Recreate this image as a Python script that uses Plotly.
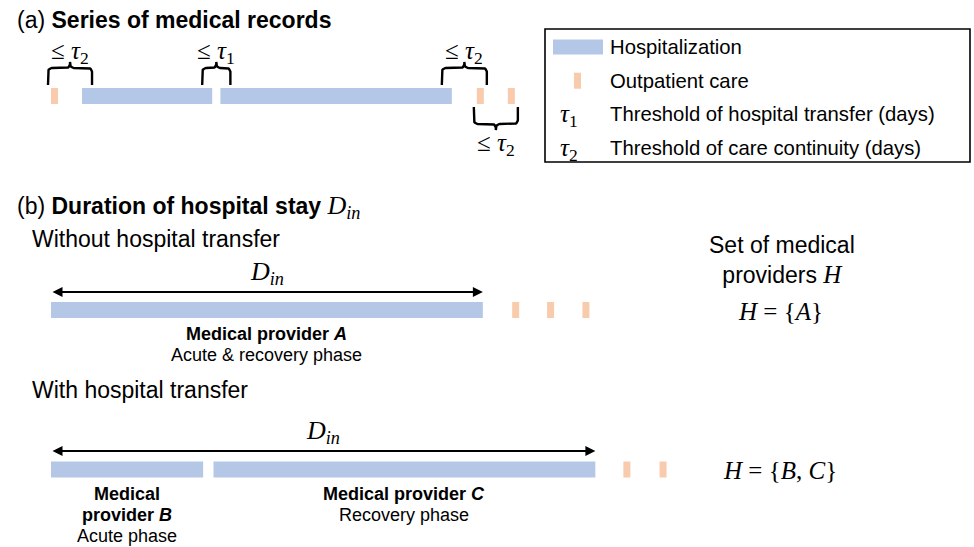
import numpy as np
import plotly.graph_objects as go

# ---------------- data (days, first record = day 0) ----------------
# (a) Series of medical records
a_hosp_start = [7.2, 39.3]
a_hosp_end = [37.4, 93.0]
a_outpatient_day = [0.0, 98.8, 106.0]

# (b) Without hospital transfer
b1_provider = ["A"]
b1_phase = ["Acute & recovery phase"]
b1_hosp_start = [0.0]
b1_hosp_end = [100.2]
b1_outpatient_day = [107.0, 115.1, 123.3]

# (b) With hospital transfer
b2_provider = ["B", "C"]
b2_phase = ["Acute phase", "Recovery phase"]
b2_hosp_start = [0.0, 37.7]
b2_hosp_end = [35.3, 126.3]
b2_outpatient_day = [132.8, 141.2]

legend_labels = ["Hospitalization", "Outpatient care",
                 "Threshold of hospital transfer (days)",
                 "Threshold of care continuity (days)"]
legend_symbols = ["", "", "1", "2"]

# ---------------- style / layout constants ----------------
W, H = 974, 547
PX_PER_DAY = 4.31
ORIGIN_PX = 51
OUT_W = 7 / PX_PER_DAY          # width of an outpatient mark (days)
HOSP_C = "#B4C7E7"
OUT_C = "#F8CBAD"
SANS = "Liberation Sans"
SERIF = "Liberation Serif"
ROW_A, ROW_B1, ROW_B2 = 96, 310, 469.5
BAR_H = 16
BRACE_PAD = 10 / PX_PER_DAY
R_PX = 4
brace_side = ["above", "above", "above", "below"]


def px(p):
    return p / W


def math(s, size):
    return f"<span style='font-family:{SERIF};font-size:{size}px'>{s}</span>"


fig = go.Figure()
ann = []
shapes = []


def add_row(starts, ends, outs, row):
    fig.add_trace(go.Bar(
        orientation="h", base=starts, x=[e - s for s, e in zip(starts, ends)],
        y=[row] * len(starts), width=BAR_H, marker=dict(color=HOSP_C, line_width=0),
        hoverinfo="skip", showlegend=False))
    fig.add_trace(go.Bar(
        orientation="h", base=outs, x=[OUT_W] * len(outs),
        y=[row] * len(outs), width=BAR_H, marker=dict(color=OUT_C, line_width=0),
        hoverinfo="skip", showlegend=False))


def brace(x0, x1, yb, yt, ytip, side):
    s = -1 if side == "above" else 1
    rx = R_PX / PX_PER_DAY
    ry = R_PX
    xm = (x0 + x1) / 2
    t = np.linspace(0, np.pi / 2, 10)
    left = [(x0, yb)]
    left += list(zip(x0 + rx - rx * np.cos(t), yt - s * ry + s * ry * np.sin(t)))
    left += list(zip(xm - rx + rx * np.sin(t), yt + s * ry * (1 - np.cos(t))))
    left += [(xm, ytip)]
    right = [(2 * xm - x, y) for x, y in reversed(left)]
    pts = left + right[1:]
    fig.add_trace(go.Scatter(x=[p[0] for p in pts], y=[p[1] for p in pts], mode="lines",
                             line=dict(color="black", width=2.4), hoverinfo="skip",
                             showlegend=False))


# ---------------- (a) ----------------
add_row(a_hosp_start, a_hosp_end, a_outpatient_day, ROW_A)
records = sorted([(s, e, "h") for s, e in zip(a_hosp_start, a_hosp_end)] +
                 [(d, d + OUT_W, "o") for d in a_outpatient_day])
for i in range(len(records) - 1):
    g0, g1 = records[i][1], records[i + 1][0]
    tau = "1" if records[i][2] == "h" and records[i + 1][2] == "h" else "2"
    side = brace_side[i]
    if side == "above":
        yb, yt, ytip, ylab = ROW_A - BAR_H / 2 - 3, ROW_A - 28, ROW_A - 34, ROW_A - 44
    else:
        yb, yt, ytip, ylab = ROW_A + BAR_H / 2 + 3, ROW_A + 28, ROW_A + 34, ROW_A + 48
    brace(g0 - BRACE_PAD, g1 + BRACE_PAD, yb, yt, ytip, side)
    ann.append(dict(x=(g0 + g1) / 2, y=ylab, xref="x", yref="y",
                    text=math(f"≤ <i>τ</i><sub>{tau}</sub>", 25), showarrow=False,
                    font=dict(size=25), xanchor="center", yanchor="middle"))

ann.append(dict(x=px(15), y=20, xref="paper", yref="y", xanchor="left", yanchor="middle",
                text="(a) <b>Series of medical records</b>", showarrow=False, font=dict(size=23)))

# legend box
shapes.append(dict(type="rect", xref="paper", yref="y", x0=px(545), x1=px(970), y0=29, y1=162,
                   line=dict(color="black", width=1.6), fillcolor="rgba(0,0,0,0)"))
LEG_Y0, LEG_DY = 47, 33.7
for i, lab in enumerate(legend_labels):
    y = LEG_Y0 + i * LEG_DY
    ann.append(dict(x=px(608), y=y, xref="paper", yref="y", xanchor="left", yanchor="middle",
                    text=lab, showarrow=False, font=dict(size=20.3)))
    if i == 0:
        shapes.append(dict(type="rect", xref="paper", yref="y", x0=px(553), x1=px(603),
                           y0=y - 7.5, y1=y + 7.5, line_width=0, fillcolor=HOSP_C))
    elif i == 1:
        shapes.append(dict(type="rect", xref="paper", yref="y", x0=px(574), x1=px(581),
                           y0=y - 8, y1=y + 8, line_width=0, fillcolor=OUT_C))
    else:
        ann.append(dict(x=px(569), y=y + 1, xref="paper", yref="y", xanchor="center",
                        yanchor="middle", showarrow=False, font=dict(size=25),
                        text=math(f"<i>τ</i><sub>{legend_symbols[i]}</sub>", 25)))

# ---------------- (b) ----------------
ann.append(dict(x=px(15), y=207, xref="paper", yref="y", xanchor="left", yanchor="middle",
                showarrow=False, font=dict(size=23),
                text="(b) <b>Duration of hospital stay</b> " +
                     math("<i>D</i><sub><i>in</i></sub>", 26)))
ann.append(dict(x=px(30), y=239, xref="paper", yref="y", xanchor="left", yanchor="middle",
                showarrow=False, font=dict(size=23), text="Without hospital transfer"))
ann.append(dict(x=px(30), y=390, xref="paper", yref="y", xanchor="left", yanchor="middle",
                showarrow=False, font=dict(size=23), text="With hospital transfer"))
ann.append(dict(x=px(782), y=260, xref="paper", yref="y", xanchor="center", yanchor="middle",
                showarrow=False, font=dict(size=23),
                text="Set of medical<br>providers " + math("<i>H</i>", 25)))


def panel_b(starts, ends, outs, providers, phases, row, dy_arrow):
    add_row(starts, ends, outs, row)
    x0, x1 = min(starts), max(ends)
    ya = row - dy_arrow
    ann.append(dict(x=x1, y=ya, ax=x0, ay=ya, xref="x", yref="y", axref="x", ayref="y",
                    text="", showarrow=True, arrowside="end+start", arrowhead=2,
                    arrowsize=1, arrowwidth=2, arrowcolor="black", standoff=0, startstandoff=0,
                    font=dict(size=12)))
    ann.append(dict(x=(x0 + x1) / 2, y=ya - 19, xref="x", yref="y", showarrow=False,
                    text=math("<i>D</i><sub><i>in</i></sub>", 26), font=dict(size=26),
                    xanchor="center", yanchor="middle"))
    for s, e, p, ph in zip(starts, ends, providers, phases):
        wide = (e - s) * PX_PER_DAY > 200
        lines = ([f"<b>Medical provider <i>{p}</i></b>", ph] if wide else
                 ["<b>Medical</b>", f"<b>provider <i>{p}</i></b>", ph])
        for k, ln in enumerate(lines):
            ann.append(dict(x=(s + e) / 2, y=row + 24 + 21 * k, xref="x", yref="y",
                            showarrow=False, text=ln, font=dict(size=18),
                            xanchor="center", yanchor="middle"))
    hs = ", ".join(f"<i>{p}</i>" for p in providers)
    ann.append(dict(x=px(780), y=row + 1, xref="paper", yref="y", showarrow=False,
                    text=math(f"<i>H</i> = {{{hs}}}", 25), font=dict(size=25),
                    xanchor="center", yanchor="middle"))


panel_b(b1_hosp_start, b1_hosp_end, b1_outpatient_day, b1_provider, b1_phase, ROW_B1, 18)
panel_b(b2_hosp_start, b2_hosp_end, b2_outpatient_day, b2_provider, b2_phase, ROW_B2, 18.5)

fig.update_layout(
    width=W, height=H, margin=dict(l=0, r=0, t=0, b=0),
    paper_bgcolor="white", plot_bgcolor="white", barmode="overlay",
    font=dict(family=SANS, color="black", size=18),
    xaxis=dict(range=[-ORIGIN_PX / PX_PER_DAY, (W - ORIGIN_PX) / PX_PER_DAY], visible=False,
               fixedrange=True),
    yaxis=dict(range=[H, 0], visible=False, fixedrange=True),
    annotations=ann, shapes=shapes, showlegend=False,
)
fig.write_html("out.html", config=dict(displayModeBar=False, staticPlot=True),
               post_script="document.body.style.margin='0';document.body.style.overflow='hidden';")
